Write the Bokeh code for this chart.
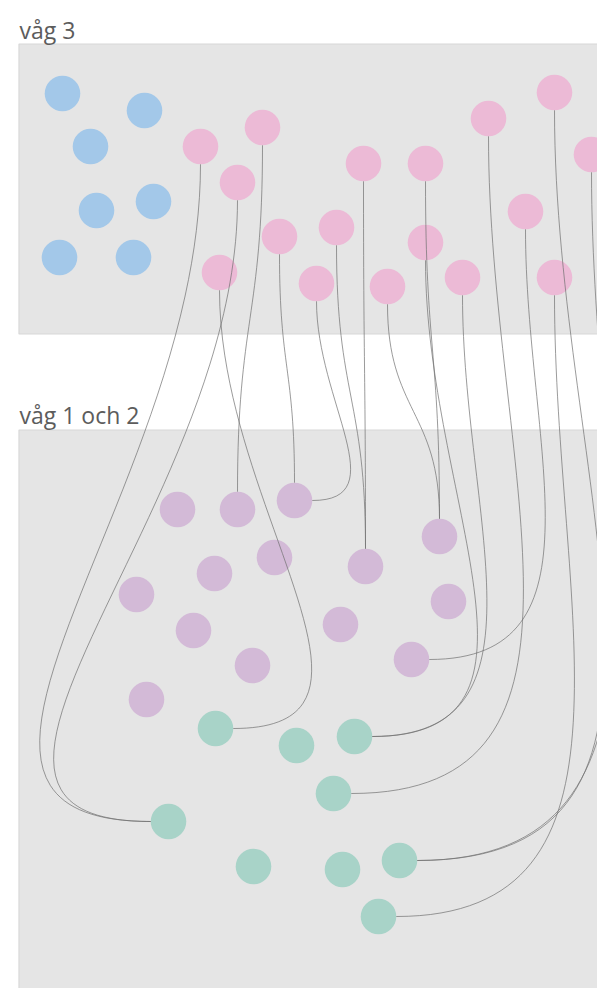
from bokeh.plotting import figure
from bokeh.models import Range1d, ColumnDataSource
from bokeh.core.properties import value
from bokeh.embed import file_html
from bokeh.resources import INLINE

# ---- data (pixel-space layout of the original picture) ----
blue_x = [62, 144, 90, 153, 96, 59, 133]
blue_y = [93, 110, 146, 201, 210, 257, 257]

pink_x = [200, 262, 237, 279, 336, 219, 316, 363, 387, 425, 425, 462, 488, 525, 554, 554, 591]
pink_y = [146, 127, 182, 236, 227, 272, 283, 163, 286, 163, 242, 277, 118, 211, 92, 277, 154]

purple_x = [177, 237, 294, 274, 214, 136, 365, 439, 448, 340, 193, 252, 411, 146]
purple_y = [509, 509, 500, 557, 573, 594, 566, 536, 601, 624, 630, 665, 659, 699]

green_x = [215, 296, 354, 333, 168, 253, 342, 399, 378]
green_y = [728, 745, 736, 793, 821, 866, 869, 860, 916]

link_source = [0, 2, 5, 1, 3, 6, 4, 7, 8, 9, 10, 11, 12, 13, 15, 14, 16]
link_group = ["g", "g", "g", "p", "p", "p", "p", "p", "p", "p", "g", "g", "g", "p", "g", "g", "g"]
link_target = [4, 4, 0, 1, 2, 2, 6, 6, 7, 7, 2, 2, 3, 12, 8, 7, 7]
link_side = ["left", "left", "right", "top", "top", "right", "top", "top", "top", "top",
             "right", "right", "right", "right", "right", "right", "right"]

panel_labels = ["våg 3", "våg 1 och 2"]

# ---- build ----
R = 17.8
W, H = 597, 988

p = figure(width=W, height=H, output_backend="svg", toolbar_location=None,
           x_range=Range1d(0, W), y_range=Range1d(H, 0),
           min_border=0, outline_line_color=None)
p.axis.visible = False
p.grid.visible = False
p.background_fill_color = "white"
p.border_fill_color = "white"

# panels
p.quad(left=[18.5, 18.5], right=[640, 640], top=[43.5, 429.5], bottom=[333.5, 1040],
       fill_color="#e5e5e5", line_color="#d8d8d8", line_width=1.2)

p.text(x=[19, 19], y=[29, 414], text=panel_labels, text_font=value("Open Sans"),
       text_font_size="23px", text_color="#5c5c5c", text_baseline="alphabetic")

# circles
p.scatter(blue_x, blue_y, size=2 * R, fill_color="#a3c8e9", line_color=None)
p.scatter(pink_x, pink_y, size=2 * R, fill_color="#ecbad6", line_color=None)
p.scatter(purple_x, purple_y, size=2 * R, fill_color="#d3bad7", line_color=None)
p.scatter(green_x, green_y, size=2 * R, fill_color="#a8d3c8", line_color=None)

# links
x0s, y0s, x1s, y1s, c0x, c0y, c1x, c1y = [], [], [], [], [], [], [], []
for s, g, t, side in zip(link_source, link_group, link_target, link_side):
    sx, sy = pink_x[s], pink_y[s] + R
    tx = green_x[t] if g == "g" else purple_x[t]
    ty = green_y[t] if g == "g" else purple_y[t]
    if side == "top":
        ex, ey = tx, ty - R
        dy = ey - sy
        cx0, cy0, cx1, cy1 = sx, sy + 0.5 * dy, ex, ey - 0.5 * dy
    else:
        sgn = 1 if side == "right" else -1
        ex, ey = tx + sgn * R, ty
        dy = ey - sy
        cx0, cy0 = sx, sy + 0.5 * dy
        cx1, cy1 = ex + sgn * 0.42 * dy, ey
    x0s.append(sx); y0s.append(sy); x1s.append(ex); y1s.append(ey)
    c0x.append(cx0); c0y.append(cy0); c1x.append(cx1); c1y.append(cy1)

src = ColumnDataSource(dict(x0=x0s, y0=y0s, x1=x1s, y1=y1s,
                            cx0=c0x, cy0=c0y, cx1=c1x, cy1=c1y))
p.bezier(x0="x0", y0="y0", x1="x1", y1="y1", cx0="cx0", cy0="cy0", cx1="cx1", cy1="cy1",
         source=src, line_color="#707070", line_alpha=0.7, line_width=1)

open("out.html", "w").write(file_html(p, INLINE))
